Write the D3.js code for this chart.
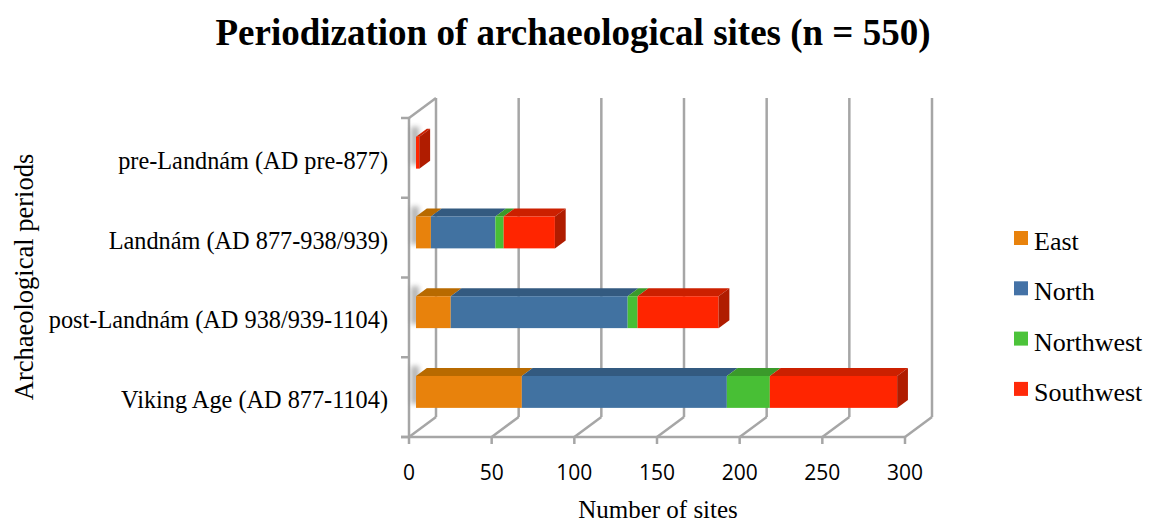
<!DOCTYPE html>
<html>
<head>
<meta charset="utf-8">
<script src="https://cdn.jsdelivr.net/npm/d3@7"></script>
<style>
  body { margin: 0; background: #fff; }
  .serif { font-family: "Liberation Serif", "Times New Roman", serif; fill: #000; }
  .tick-label { font-family: "Open Sans", sans-serif; fill: #000; }
</style>
</head>
<body>
<div id="chart"></div>
<script>
// Data
const periods = ["Viking Age (AD 877-1104)", "post-Landnám (AD 938/939-1104)", "Landnám (AD 877-938/939)", "pre-Landnám (AD pre-877)"];
const regions = ["East", "North", "Northwest", "Southwest"];
const east = [64, 21, 9, 0];
const north = [124, 107, 39, 0];
const northwest = [26, 6, 5, 0];
const southwest = [77, 49, 31, 2];
const xTicks = [0, 50, 100, 150, 200, 250, 300];

// colours: front, top, side
const colors = {
    East: ["#e8820c", "#b86a00", "#9c5a00"],
    North: ["#4172a1", "#335a80", "#2b4d6e"],
    Northwest: ["#48bf35", "#3a9a2a", "#2f8022"],
    Southwest: ["#ff2500", "#cc2000", "#b01c00"]
};
const legendColors = ["#e8820c", "#4472a6", "#4cc33a", "#ff2a0a"];

const width = 1151, height = 524;
const svg = d3.select("#chart").append("svg")
    .attr("width", width)
    .attr("height", height);

// shadow filter for the bar ends
svg.append("defs").append("filter")
    .attr("id", "blur")
    .attr("x", "-50%").attr("y", "-50%").attr("width", "200%").attr("height", "200%")
    .append("feGaussianBlur").attr("stdDeviation", 2.5);

// 3D depth offset of the plot box
const DX = 27, DY = -20;
const f0 = 0.26, f1 = 0.66; // bar depth range (fraction of full depth)

const xScale = d3.scaleLinear().domain([0, 300]).range([409, 905]);
const yScale = d3.scaleBand().domain(periods).range([437, 118]);

const gridColor = "#a6a6a6";
const grid = svg.append("g")
    .attr("stroke", gridColor)
    .attr("stroke-width", 2.5)
    .attr("fill", "none");

const top0 = yScale.range()[1], bottom0 = yScale.range()[0];

// back wall gridlines
grid.selectAll(".vgrid")
    .data(xTicks)
    .enter().append("line")
    .attr("x1", d => xScale(d) + DX).attr("x2", d => xScale(d) + DX)
    .attr("y1", top0 + DY).attr("y2", bottom0 + DY);

// floor diagonals
grid.selectAll(".diag")
    .data(xTicks)
    .enter().append("line")
    .attr("x1", d => xScale(d)).attr("x2", d => xScale(d) + DX)
    .attr("y1", bottom0).attr("y2", bottom0 + DY);

// floor front edge + ticks
grid.append("line")
    .attr("x1", xScale(0) - 8).attr("x2", xScale(300))
    .attr("y1", bottom0).attr("y2", bottom0);
grid.selectAll(".xtick")
    .data(xTicks)
    .enter().append("line")
    .attr("x1", d => xScale(d)).attr("x2", d => xScale(d))
    .attr("y1", bottom0).attr("y2", bottom0 + 7);

// left wall
grid.append("line")
    .attr("x1", xScale(0)).attr("x2", xScale(0))
    .attr("y1", top0).attr("y2", bottom0);
grid.append("line")
    .attr("x1", xScale(0)).attr("x2", xScale(0) + DX)
    .attr("y1", top0).attr("y2", top0 + DY);
const yTickPos = periods.map(p => yScale(p)).concat([bottom0]);
grid.selectAll(".ytick")
    .data(yTickPos)
    .enter().append("line")
    .attr("x1", xScale(0) - 8).attr("x2", xScale(0))
    .attr("y1", d => d).attr("y2", d => d);

// stacked bars
const rows = periods.map((p, i) => ({
    period: p, East: east[i], North: north[i], Northwest: northwest[i], Southwest: southwest[i]
}));
const stacked = d3.stack().keys(regions)(rows);

const barH = yScale.bandwidth() * 0.4;
const bx = (f1 - f0) * DX, by = (f1 - f0) * DY;

const barsG = svg.append("g");

// soft shadow at the start of each bar
barsG.selectAll(".shadow")
    .data(rows)
    .enter().append("rect")
    .attr("x", xScale(0) + 2)
    .attr("y", d => yScale(d.period) + yScale.bandwidth() / 2 - barH / 2 + f0 * DY - 10)
    .attr("width", 8)
    .attr("height", barH + 6)
    .attr("fill", "#777")
    .attr("opacity", 0.55)
    .attr("filter", "url(#blur)");

rows.forEach((row, i) => {
    const yt = yScale(row.period) + yScale.bandwidth() / 2 - barH / 2 + f0 * DY;
    const yb = yt + barH;
    const segs = stacked.map(s => ({ key: s.key, x0: s[i][0], x1: s[i][1] }))
        .filter(s => s.x1 > s.x0);
    const g = barsG.append("g");
    segs.forEach((s, j) => {
        const xa = xScale(s.x0) + f0 * DX, xb = xScale(s.x1) + f0 * DX;
        const c = colors[s.key];
        g.append("polygon")
            .attr("points", [[xa, yt], [xb, yt], [xb + bx, yt + by], [xa + bx, yt + by]].join(" "))
            .attr("fill", c[1]);
        g.append("rect")
            .attr("x", xa).attr("y", yt)
            .attr("width", xb - xa).attr("height", barH)
            .attr("fill", c[0]);
        if (j === segs.length - 1) {
            g.append("polygon")
                .attr("points", [[xb, yt], [xb + bx, yt + by], [xb + bx, yb + by], [xb, yb]].join(" "))
                .attr("fill", c[2]);
        }
    });
});

// category labels
svg.selectAll(".cat")
    .data(periods)
    .enter().append("text")
    .attr("class", "serif")
    .attr("x", 388)
    .attr("y", d => yScale(d) + yScale.bandwidth() / 2 + 11)
    .attr("text-anchor", "end")
    .style("font-size", "24.3px")
    .text(d => d);

// x tick labels
svg.selectAll(".xlab")
    .data(xTicks)
    .enter().append("text")
    .attr("class", "tick-label")
    .attr("x", d => xScale(d))
    .attr("y", 480)
    .attr("text-anchor", "middle")
    .style("font-size", "21px")
    .text(d => d);

// titles
svg.append("text")
    .attr("class", "serif")
    .attr("x", 573).attr("y", 45)
    .attr("text-anchor", "middle")
    .style("font-size", "37px")
    .style("font-weight", "bold")
    .text("Periodization of archaeological sites (n = 550)");

svg.append("text")
    .attr("class", "serif")
    .attr("x", 658).attr("y", 518)
    .attr("text-anchor", "middle")
    .style("font-size", "25px")
    .text("Number of sites");

svg.append("text")
    .attr("class", "serif")
    .attr("transform", "translate(33, 277) rotate(-90)")
    .attr("text-anchor", "middle")
    .style("font-size", "26.5px")
    .text("Archaeological periods");

// legend
const legend = svg.selectAll(".legend")
    .data(regions)
    .enter().append("g")
    .attr("transform", (d, i) => `translate(1014, ${231 + i * 50.3})`);
legend.append("rect")
    .attr("width", 14).attr("height", 14)
    .attr("fill", (d, i) => legendColors[i]);
legend.append("text")
    .attr("class", "serif")
    .attr("x", 20).attr("y", 19)
    .style("font-size", "26px")
    .text(d => d);
</script>
</body>
</html>
